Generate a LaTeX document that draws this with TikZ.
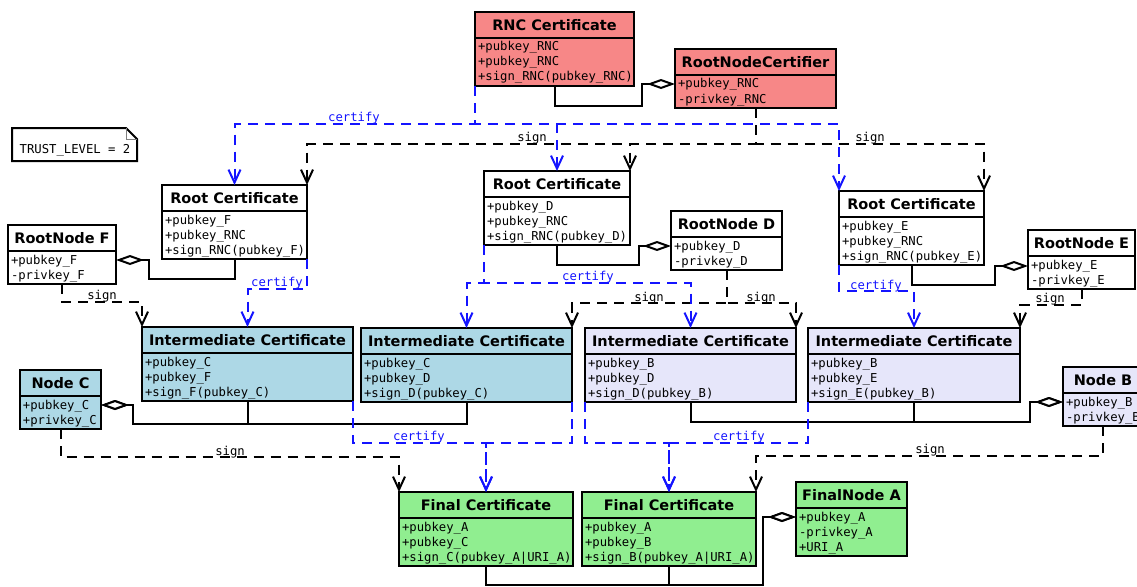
\documentclass[tikz,border=0pt]{standalone}
\usepackage{fontspec}
\newfontfamily\headfont{DejaVu Sans}
\newfontfamily\codefont{DejaVu Sans Mono}
\usetikzlibrary{arrows.meta,positioning,calc}

\definecolor{rnccol}{RGB}{247,135,135}
\definecolor{bluecol}{RGB}{173,216,230}
\definecolor{lavcol}{RGB}{230,230,250}
\definecolor{greencol}{RGB}{144,238,144}
\definecolor{certblue}{RGB}{20,20,255}

\tikzset{
  ctitle/.style={draw, line width=2pt, outer sep=0pt, anchor=north west, inner sep=0pt,
    minimum height=26pt, text height=10.5pt, text depth=0pt,
    font=\headfont\bfseries\fontsize{14.5}{17}\selectfont},
  cbody/.style={draw, line width=2pt, outer sep=0pt, inner xsep=3pt, inner ysep=2pt,
    align=left, text height=11pt, font=\codefont\fontsize{12.25}{15}\selectfont},
  certline/.style={draw=certblue, line width=2pt, dash pattern=on 10pt off 7pt,
    -{Straight Barb[length=13pt,width=12pt]}},
  signline/.style={draw=black, line width=2pt, dash pattern=on 10pt off 7pt,
    -{Straight Barb[length=13pt,width=12pt]}},
  agg/.style={line width=2pt, -{Diamond[fill=white,length=28pt,width=10pt]}},
  lbl/.style={font=\codefont\fontsize{12.25}{15}\selectfont, anchor=base, inner sep=0pt}
}

\begin{document}
\begin{tikzpicture}[x=1pt, y=-1pt]
  \useasboundingbox (0,0) rectangle (1137,586);

  % note
  \draw[line width=2pt, fill=white] (12,128) -- (126,128) -- (137,139) -- (137,161) -- (12,161) -- cycle;
  \draw[line width=0.8pt, gray] (126,128) |- (137,139);
  \node[lbl] (note) at (75,153) {TRUST\_LEVEL = 2};

  % root node certifier
  \node[ctitle, fill=rnccol, minimum width=159pt] (rnc) at (475,12) {RNC Certificate};
  \node[cbody, fill=rnccol, text width=153pt, text depth=33pt, below=0pt of rnc] (rncb) {+pubkey\_RNC\\+pubkey\_RNC\\+sign\_RNC(pubkey\_RNC)};
  \node[ctitle, fill=rnccol, minimum width=161pt] (rnca) at (675,49) {RootNodeCertifier};
  \node[cbody, fill=rnccol, text width=155pt, text depth=18pt, below=0pt of rnca] (rncab) {+pubkey\_RNC\\-privkey\_RNC};

  % root certificates
  \node[ctitle, fill=white, minimum width=145pt] (rootf) at (162,185) {Root Certificate};
  \node[cbody, fill=white, text width=139pt, text depth=33pt, below=0pt of rootf] (rootfb) {+pubkey\_F\\+pubkey\_RNC\\+sign\_RNC(pubkey\_F)};
  \node[ctitle, fill=white, minimum width=146pt] (rootd) at (484,171) {Root Certificate};
  \node[cbody, fill=white, text width=140pt, text depth=33pt, below=0pt of rootd] (rootdb) {+pubkey\_D\\+pubkey\_RNC\\+sign\_RNC(pubkey\_D)};
  \node[ctitle, fill=white, minimum width=145pt] (roote) at (839,191) {Root Certificate};
  \node[cbody, fill=white, text width=139pt, text depth=33pt, below=0pt of roote] (rooteb) {+pubkey\_E\\+pubkey\_RNC\\+sign\_RNC(pubkey\_E)};

  % root nodes
  \node[ctitle, fill=white, minimum width=108pt] (nodef) at (8,225) {RootNode F};
  \node[cbody, fill=white, text width=102pt, text depth=18pt, below=0pt of nodef] (nodefb) {+pubkey\_F\\-privkey\_F};
  \node[ctitle, fill=white, minimum width=111pt] (noded) at (671,211) {RootNode D};
  \node[cbody, fill=white, text width=105pt, text depth=18pt, below=0pt of noded] (nodedb) {+pubkey\_D\\-privkey\_D};
  \node[ctitle, fill=white, minimum width=107pt] (nodee) at (1028,230) {RootNode E};
  \node[cbody, fill=white, text width=101pt, text depth=18pt, below=0pt of nodee] (nodeeb) {+pubkey\_E\\-privkey\_E};

  % intermediate certificates
  \node[ctitle, fill=bluecol, minimum width=211pt] (intcf) at (142,327) {Intermediate Certificate};
  \node[cbody, fill=bluecol, text width=205pt, text depth=33pt, below=0pt of intcf] (intcfb) {+pubkey\_C\\+pubkey\_F\\+sign\_F(pubkey\_C)};
  \node[ctitle, fill=bluecol, minimum width=211pt] (intcd) at (361,328) {Intermediate Certificate};
  \node[cbody, fill=bluecol, text width=205pt, text depth=33pt, below=0pt of intcd] (intcdb) {+pubkey\_C\\+pubkey\_D\\+sign\_D(pubkey\_C)};
  \node[ctitle, fill=lavcol, minimum width=211pt] (intbd) at (585,328) {Intermediate Certificate};
  \node[cbody, fill=lavcol, text width=205pt, text depth=33pt, below=0pt of intbd] (intbdb) {+pubkey\_B\\+pubkey\_D\\+sign\_D(pubkey\_B)};
  \node[ctitle, fill=lavcol, minimum width=212pt] (intbe) at (808,328) {Intermediate Certificate};
  \node[cbody, fill=lavcol, text width=206pt, text depth=33pt, below=0pt of intbe] (intbeb) {+pubkey\_B\\+pubkey\_E\\+sign\_E(pubkey\_B)};

  % nodes
  \node[ctitle, fill=bluecol, minimum width=81pt] (nodec) at (20,370) {Node C};
  \node[cbody, fill=bluecol, text width=75pt, text depth=18pt, below=0pt of nodec] (nodecb) {+pubkey\_C\\+privkey\_C};
  \node[ctitle, fill=lavcol, minimum width=80pt] (nodeb) at (1063,367) {Node B};
  \node[cbody, fill=lavcol, text width=74pt, text depth=18pt, below=0pt of nodeb] (nodebb) {+pubkey\_B\\-privkey\_B};

  % final certificates
  \node[ctitle, fill=greencol, minimum width=174pt] (finc) at (399,492) {Final Certificate};
  \node[cbody, fill=greencol, text width=168pt, text depth=33pt, below=0pt of finc] (fincb) {+pubkey\_A\\+pubkey\_C\\+sign\_C(pubkey\_A|URI\_A)};
  \node[ctitle, fill=greencol, minimum width=174pt] (finb) at (582,492) {Final Certificate};
  \node[cbody, fill=greencol, text width=168pt, text depth=33pt, below=0pt of finb] (finbb) {+pubkey\_A\\+pubkey\_B\\+sign\_B(pubkey\_A|URI\_A)};
  \node[ctitle, fill=greencol, minimum width=111pt] (nodea) at (796,482) {FinalNode A};
  \node[cbody, fill=greencol, text width=105pt, text depth=33pt, below=0pt of nodea] (nodeab) {+pubkey\_A\\-privkey\_A\\+URI\_A};

  % aggregations
  \draw[agg] (rncb.south) |- (642,106) |- ([yshift=-9pt]rncab.north west);
  \draw[agg] (rootfb.south) |- (149,279) |- ([yshift=-9pt]nodefb.north east);
  \draw[agg] (rootdb.south) |- (639,265) |- ([yshift=-9pt]nodedb.north west);
  \draw[agg] (rooteb.south) |- (995,285) |- ([yshift=-10pt]nodeeb.north west);
  \draw[agg] (intcfb.south) |- (133,424) |- ([yshift=-9pt]nodecb.north east);
  \draw[agg] (intcdb.south) |- (133,424) |- ([yshift=-9pt]nodecb.north east);
  \draw[agg] (intbdb.south) |- (1030,422) |- ([yshift=-9pt]nodebb.north west);
  \draw[agg] (intbeb.south) |- (1030,422) |- ([yshift=-9pt]nodebb.north west);
  \draw[agg] (fincb.south) |- (763,585) |- ([yshift=-9pt]nodeab.north west);
  \draw[agg] (finbb.south) |- (763,585) |- ([yshift=-9pt]nodeab.north west);

  % certify and sign from the root node certifier
  \coordinate (certbus) at (0,124);
  \coordinate (signbus) at (0,144);
  \draw[certline] (rncb.south west) -- (rncb.south west |- certbus) -| (rootf.north);
  \draw[certline] (rncb.south west) -- (rncb.south west |- certbus) -| (rootd.north);
  \draw[certline] (rncb.south west) -- (rncb.south west |- certbus) -| (roote.north west);
  \draw[signline] (rncab.south) -- (rncab.south |- signbus) -| (rootf.north east);
  \draw[signline] (rncab.south) -- (rncab.south |- signbus) -| (rootd.north east);
  \draw[signline] (rncab.south) -- (rncab.south |- signbus) -| (roote.north east);
  \node[lbl, certblue] (lcert0) at (354,121) {certify};
  \node[lbl] (lsign0) at (532,141) {sign};
  \node[lbl] (lsign1) at (870,141) {sign};

  % certify and sign from the root nodes
  \draw[signline] (nodefb.south) -- ++(0,18) -| (intcf.north west);
  \draw[certline] (rootfb.south east) -- ++(0,30) -| (intcf.north);
  \draw[signline] (nodedb.south) -- ++(0,33) -| (intcd.north east);
  \draw[signline] (nodedb.south) -- ++(0,33) -| (intbd.north east);
  \draw[certline] (rootdb.south west) -- ++(0,38) -| (intcd.north);
  \draw[certline] (rootdb.south west) -- ++(0,38) -| (intbd.north);
  \draw[signline] (nodeeb.south) -- ++(0,16) -| (intbe.north east);
  \draw[certline] (rooteb.south west) -- ++(0,26) -| (intbe.north);
  \node[lbl] (lsign2) at (102,299) {sign};
  \node[lbl, certblue] (lcert1) at (277,286) {certify};
  \node[lbl, certblue] (lcert2) at (588,280) {certify};
  \node[lbl] (lsign3) at (649,301) {sign};
  \node[lbl] (lsign4) at (761,301) {sign};
  \node[lbl, certblue] (lcert3) at (876,289) {certify};
  \node[lbl] (lsign5) at (1050,302) {sign};

  % certify and sign to the final certificates
  \coordinate (finbus) at (0,443);
  \draw[certline] (intcfb.south east) -- (intcfb.south east |- finbus) -| (finc.north);
  \draw[certline] (intcdb.south east) -- (intcdb.south east |- finbus) -| (finc.north);
  \draw[certline] (intbdb.south west) -- (intbdb.south west |- finbus) -| (finb.north);
  \draw[certline] (intbeb.south west) -- (intbeb.south west |- finbus) -| (finb.north);
  \draw[signline] (nodecb.south) -- ++(0,28) -| (finc.north west);
  \draw[signline] (nodebb.south) -- ++(0,30) -| (finb.north east);
  \node[lbl, certblue] (lcert4) at (419,440) {certify};
  \node[lbl, certblue] (lcert5) at (739,440) {certify};
  \node[lbl] (lsign6) at (230,455) {sign};
  \node[lbl] (lsign7) at (930,453) {sign};
\end{tikzpicture}
\end{document}
